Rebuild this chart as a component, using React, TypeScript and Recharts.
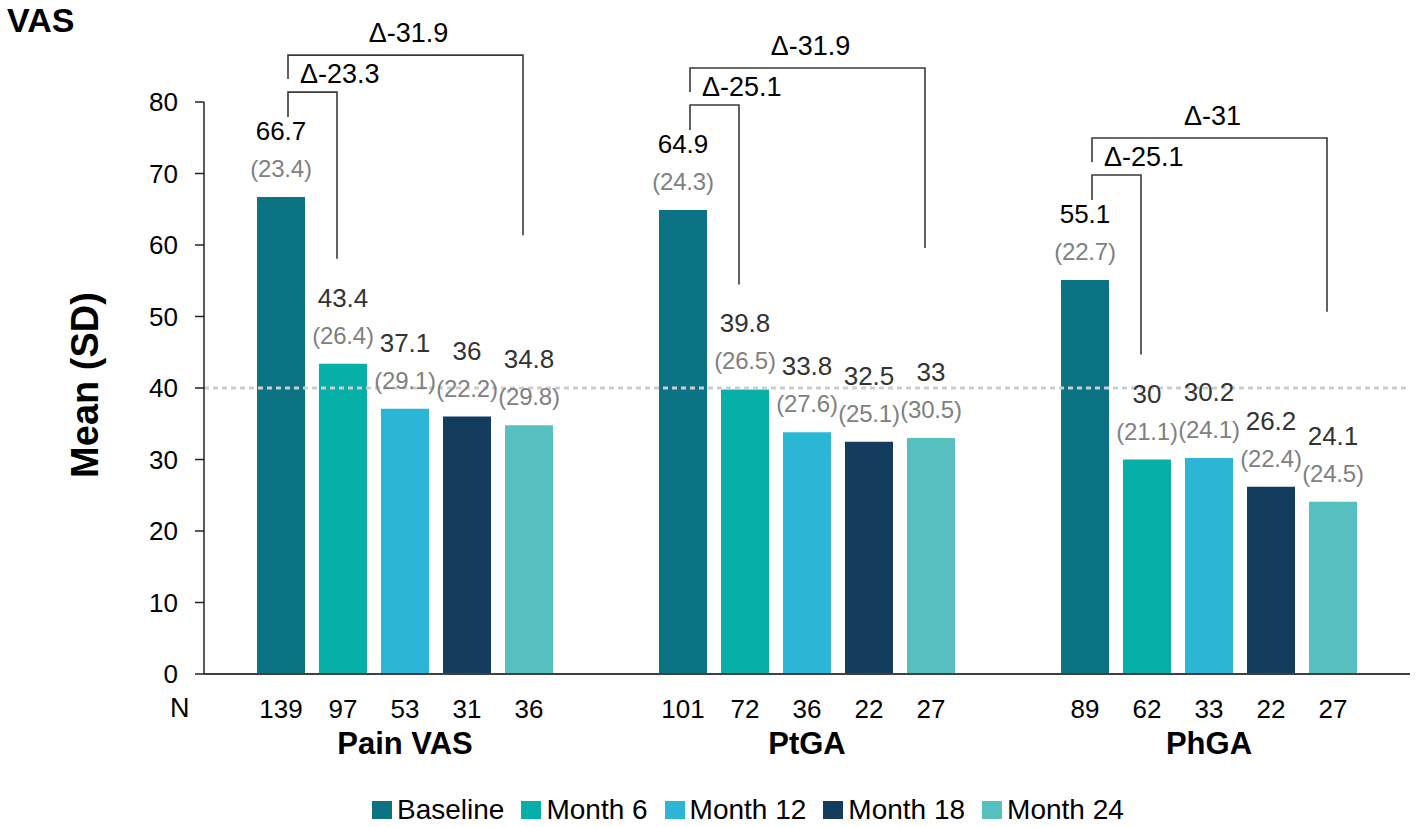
import { Bar, BarChart, LabelList, Legend, ReferenceLine, XAxis, YAxis } from "recharts";

const FONT = '"Liberation Sans", Arial, Helvetica, sans-serif';

// values
const groups = ["Pain VAS", "PtGA", "PhGA"];
const seriesNames = ["Baseline", "Month 6", "Month 12", "Month 18", "Month 24"];
const seriesKeys = ["baseline", "m6", "m12", "m18", "m24"];

const baseline = [66.7, 64.9, 55.1];
const month6 = [43.4, 39.8, 30];
const month12 = [37.1, 33.8, 30.2];
const month18 = [36, 32.5, 26.2];
const month24 = [34.8, 33, 24.1];

const baselineSD = [23.4, 24.3, 22.7];
const month6SD = [26.4, 26.5, 21.1];
const month12SD = [29.1, 27.6, 24.1];
const month18SD = [22.2, 25.1, 22.4];
const month24SD = [29.8, 30.5, 24.5];

const baselineN = [139, 101, 89];
const month6N = [97, 72, 62];
const month12N = [53, 36, 33];
const month18N = [31, 22, 22];
const month24N = [36, 27, 27];

const deltaMonth6 = ["-23.3", "-25.1", "-25.1"];
const deltaMonth24 = ["-31.9", "-31.9", "-31"];

const yTicks = [0, 10, 20, 30, 40, 50, 60, 70, 80];

const seriesColors = ["#0b7384", "#06afa7", "#2cb6d6", "#143c5e", "#58bfc0"];

const seriesValues = [baseline, month6, month12, month18, month24];
const seriesSD = [baselineSD, month6SD, month12SD, month18SD, month24SD];
const seriesN = [baselineN, month6N, month12N, month18N, month24N];

const chartData = groups.map((group, i) => {
  const row: Record<string, string | number> = { group };
  seriesKeys.forEach((k, s) => {
    row[k] = seriesValues[s][i];
  });
  return row;
});

const BAR_GAP = 14;
const TEXT_SIZE = 26;
const SD_SIZE = 24;

function box(props: any) {
  const vb = props.viewBox ?? {};
  return {
    x: Number(props.x ?? vb.x),
    y: Number(props.y ?? vb.y),
    width: Number(props.width ?? vb.width),
    height: Number(props.height ?? vb.height),
    index: Number(props.index ?? 0),
  };
}

function makeValueLabel(s: number) {
  return (props: any) => {
    const { x, y, width, index } = box(props);
    const cx = x + width / 2;
    return (
      <g>
        <text x={cx} y={y - 57} textAnchor="middle" fontSize={TEXT_SIZE} fill={s === 0 ? "#000" : "#333"}>
          {String(seriesValues[s][index])}
        </text>
        <text
          x={cx}
          y={y - 20}
          textAnchor="middle"
          fontSize={SD_SIZE}
          letterSpacing={-0.2}
          fill="#808080"
        >
          ({seriesSD[s][index].toFixed(1)})
        </text>
      </g>
    );
  };
}

function makeNLabel(s: number) {
  return (props: any) => {
    const { x, y, width, height, index } = box(props);
    return (
      <text x={x + width / 2} y={y + height + 44} textAnchor="middle" fontSize={TEXT_SIZE} fill="#000">
        {seriesN[s][index]}
      </text>
    );
  };
}

// brackets from baseline to month 6 and month 24, placed with the bar scale
function bracketLabel(props: any) {
  const { x, y, width, height, index } = box(props);
  const bottom = y + height;
  const perUnit = height / baseline[index];
  const step = width + BAR_GAP;
  const cx = x + width / 2;
  const m6Top = bottom - month6[index] * perUnit;
  const m24Top = bottom - month24[index] * perUnit;
  const leftX = cx + 7;
  const innerRight = cx + step - 6;
  const outerRight = cx + 4 * step - 6;
  const innerTop = y - 105;
  const outerTop = y - 142;
  return (
    <g>
      <polyline
        points={`${leftX},${y - 80} ${leftX},${innerTop} ${innerRight},${innerTop} ${innerRight},${m6Top - 105}`}
        fill="none"
        stroke="#3a3a3a"
        strokeWidth={1.6}
      />
      <polyline
        points={`${leftX},${y - 118} ${leftX},${outerTop} ${outerRight},${outerTop} ${outerRight},${m24Top - 190}`}
        fill="none"
        stroke="#3a3a3a"
        strokeWidth={1.6}
      />
      <text x={leftX + 12} y={innerTop - 9} fontSize={TEXT_SIZE + 1} fill="#000">
        {"\u0394" + deltaMonth6[index]}
      </text>
      <text x={(leftX + outerRight) / 2 + 3} y={outerTop - 13} textAnchor="middle" fontSize={TEXT_SIZE + 1} fill="#000">
        {"\u0394" + deltaMonth24[index]}
      </text>
    </g>
  );
}

function yLabel(props: any) {
  const vb = props.viewBox ?? { x: 144, y: 102, height: 572 };
  const lx = vb.x - 59;
  const ly = vb.y + vb.height / 2 - 3;
  return (
    <text
      x={lx}
      y={ly}
      transform={`rotate(-90 ${lx} ${ly})`}
      textAnchor="middle"
      dominantBaseline="central"
      fontSize={38}
      fontWeight="bold"
      fill="#000"
    >
      Mean (SD)
    </text>
  );
}

function CategoryTick(props: any) {
  return (
    <text x={props.x} y={props.y + 72} textAnchor="middle" fontSize={31} fontWeight="bold" fill="#000">
      {props.payload.value}
    </text>
  );
}

function LegendContent() {
  return (
    <div style={{ display: "flex", alignItems: "center", gap: 17, fontSize: 28, color: "#000", lineHeight: "30px" }}>
      {seriesNames.map((name, s) => (
        <div key={name} style={{ display: "flex", alignItems: "center", gap: 5 }}>
          <span style={{ width: 20, height: 18, background: seriesColors[s], display: "inline-block" }} />
          <span>{name}</span>
        </div>
      ))}
    </div>
  );
}

export default function App() {
  return (
    <div style={{ position: "absolute", left: 0, top: 0, width: 1417, height: 827, background: "#fff", fontFamily: FONT }}>
      <BarChart
        width={1417}
        height={827}
        data={chartData}
        margin={{ top: 102, right: 7, bottom: 123, left: 144 }}
        barCategoryGap={53}
        barGap={BAR_GAP}
      >
        <XAxis
          dataKey="group"
          height={30}
          tickLine={false}
          axisLine={{ stroke: "#404040", strokeWidth: 2 }}
          tick={<CategoryTick />}
          interval={0}
        />
        <YAxis
          width={60}
          domain={[0, 80]}
          ticks={yTicks}
          tickSize={9}
          tickMargin={17}
          axisLine={{ stroke: "#222", strokeWidth: 1.5 }}
          tickLine={{ stroke: "#222", strokeWidth: 1.5 }}
          tick={{ fontSize: TEXT_SIZE, fill: "#000" }}
          label={yLabel}
        />
        <ReferenceLine y={40} stroke="#cdcdcd" strokeWidth={3} strokeDasharray="5 4" />
        <Legend
          verticalAlign="middle"
          align="center"
          layout="horizontal"
          wrapperStyle={{ top: 795, left: 372, width: 900, height: 30 }}
          content={<LegendContent />}
        />
        {seriesKeys.map((k, s) => (
          <Bar key={k} dataKey={k} name={seriesNames[s]} fill={seriesColors[s]} isAnimationActive={false}>
            <LabelList dataKey={k} content={makeValueLabel(s)} />
            <LabelList dataKey={k} content={makeNLabel(s)} />
            {s === 0 && <LabelList dataKey={k} content={bracketLabel} />}
          </Bar>
        ))}
      </BarChart>
      <svg width={1417} height={827} style={{ position: "absolute", left: 0, top: 0, pointerEvents: "none" }}>
        <text x={7} y={32} fontSize={34} fontWeight="bold" fill="#000">
          VAS
        </text>
        <text x={170} y={717} fontSize={TEXT_SIZE + 1} fill="#000">
          N
        </text>
      </svg>
    </div>
  );
}
